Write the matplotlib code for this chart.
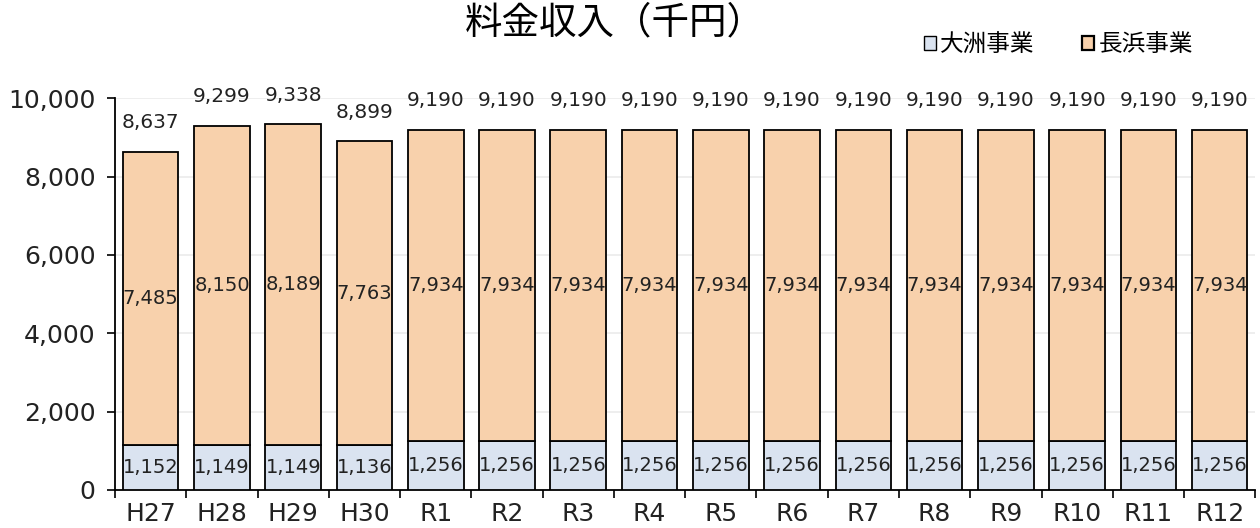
import matplotlib
matplotlib.use("Agg")
import matplotlib.pyplot as plt
import numpy as np
from matplotlib.patches import Patch

plt.rcParams['font.family'] = ['DejaVu Sans', 'Noto Sans CJK JP']

years = ["H27", "H28", "H29", "H30", "R1", "R2", "R3", "R4", "R5", "R6",
         "R7", "R8", "R9", "R10", "R11", "R12"]
ozu = [1152, 1149, 1149, 1136] + [1256] * 12
nagahama = [7485, 8150, 8189, 7763] + [7934] * 12
totals = [8637, 9299, 9338, 8899] + [9190] * 12

c_ozu = "#DAE3F0"
c_naga = "#F8D1AC"

fig = plt.figure(figsize=(12.6, 5.28), dpi=100)
ax = fig.add_axes([0.0913, 0.072, 0.905, 0.742])

x = np.arange(len(years))
w = 0.78
ax.bar(x, ozu, w, color=c_ozu, edgecolor="black", linewidth=1.3, zorder=3)
ax.bar(x, nagahama, w, bottom=ozu, color=c_naga, edgecolor="black", linewidth=1.3, zorder=3)

# segment labels + total above each bar
for i in x:
    ax.text(i, ozu[i] / 2, f"{ozu[i]:,}", ha="center", va="center", fontsize=14, color="#222222", zorder=4)
    ax.text(i, ozu[i] + nagahama[i] / 2, f"{nagahama[i]:,}", ha="center", va="center", fontsize=14,
            color="#222222", zorder=4)
    ax.text(i, totals[i] + 740, f"{totals[i]:,}", ha="center", va="center", fontsize=14.5,
            color="#222222", clip_on=False)

ax.set_xlim(-0.5, len(years) - 0.5)
ax.set_ylim(0, 10000)
ax.set_yticks(range(0, 10001, 2000))
ax.set_yticklabels([f"{v:,}" for v in range(0, 10001, 2000)], fontsize=18, color="#222222")
ax.set_xticks(x)
ax.set_xticklabels(years, fontsize=18, color="#222222")
ax.set_xticks(np.arange(-0.5, len(years), 1), minor=True)
ax.tick_params(axis="x", which="major", length=0, pad=9)
ax.tick_params(axis="x", which="minor", length=6, width=1.2, direction="out")
ax.tick_params(axis="y", length=6, width=1.2, pad=8)
ax.yaxis.grid(True, color="#EBEBEB", linewidth=1.2, zorder=0)
ax.set_axisbelow(True)
for s in ["top", "right"]:
    ax.spines[s].set_visible(False)
ax.spines["left"].set_linewidth(1.3)
ax.spines["bottom"].set_linewidth(1.3)

fig.text(0.488, 0.957, "料金収入（千円）", ha="center", va="center", fontsize=27,
         family=["Noto Sans CJK JP"])
handles = [Patch(facecolor=c_ozu, edgecolor="black", linewidth=1.0, label="大洲事業"),
           Patch(facecolor=c_naga, edgecolor="black", linewidth=1.6, label="長浜事業")]
fig.legend(handles=handles, loc="center", bbox_to_anchor=(0.84, 0.915), ncol=2, frameon=False,
           prop={"family": "Noto Sans CJK JP", "size": 17},
           handlelength=0.5, handleheight=0.5, handletextpad=0.2, columnspacing=2.0)

fig.savefig("out.png", dpi=100)
